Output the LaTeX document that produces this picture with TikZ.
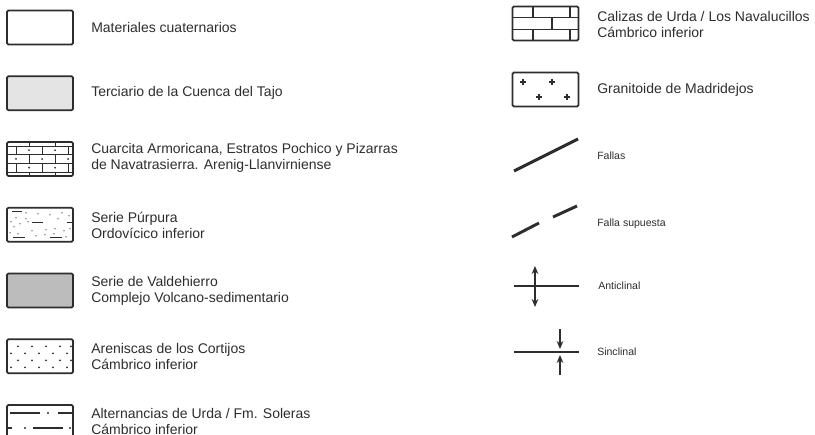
\documentclass[tikz,border=0pt]{standalone}
\usepackage{fontspec}
\setmainfont{Liberation Sans}
\usetikzlibrary{arrows.meta}
\definecolor{inkgray}{RGB}{45,45,45}
\definecolor{terciario}{RGB}{228,228,228}
\definecolor{valde}{RGB}{188,188,188}

\begin{document}
\begin{tikzpicture}[x=0.75pt,y=0.75pt,yscale=-1,xscale=1,
  legbox/.style={draw=inkgray,line width=1.4pt,rounded corners=1pt,inner sep=0pt,minimum width=49.5pt,minimum height=25.5pt},
  legtext/.style={anchor=west,inner sep=0pt,align=left,text=inkgray,font=\fontsize{10.5}{12}\selectfont},
  smalltext/.style={anchor=west,inner sep=0pt,text=inkgray,font=\fontsize{7.9}{9}\selectfont},
  hatch/.style={draw=inkgray,line width=0.7pt},
  fault/.style={draw=inkgray,line width=2.2pt},
  foldline/.style={draw=inkgray,line width=1.8pt},
  foldarrow/.style={draw=inkgray,line width=1.3pt},
  foldtip/.tip={Stealth[length=6pt,width=5pt]}]
\useasboundingbox (0,0) rectangle (815,435);
\clip (0,0) rectangle (815,435);

%Shape: Rectangle
\node[legbox] (bmat) at (40,27.5) {};
% Text Node
\node[legtext] (mat) at (91,27.5) {Materiales cuaternarios};

%Shape: Rectangle
\node[legbox,fill=terciario] (bter) at (40,93.25) {};
% Text Node
\node[legtext] (ter) at (91,93.25) {Terciario de la Cuenca del Tajo};

%Shape: Rectangle
\node[legbox] (bcua) at (40,159) {};
\begin{scope}[shift={(bcua.center)}]
  \draw[hatch] (-33,-13) -- (33,-13) (-33,-4.5) -- (33,-4.5) (-33,4.5) -- (33,4.5) (-33,13) -- (33,13);
  \foreach \x in {-11,15} \draw[hatch] (\x,-17) -- (\x,-13) (\x,-4.5) -- (\x,4.5) (\x,13) -- (\x,17);
  \foreach \x in {-24,2,28} \draw[hatch] (\x,-13) -- (\x,-4.5) (\x,4.5) -- (\x,13);
  \foreach \x in {-11,15} \fill[inkgray] (\x,-8.75) circle (1) (\x,8.75) circle (1);
  \foreach \x in {-24,2,28} \fill[inkgray] (\x,0) circle (1);
\end{scope}
% Text Node
\node[legtext] (cua) at (91,158) {Cuarcita Armoricana, Estratos Pochico y Pizarras\\de Navatrasierra. Arenig-Llanvirniense};

%Shape: Rectangle
\node[legbox] (bpur) at (40,224.75) {};
\begin{scope}[shift={(bpur.center)}]
  \draw[hatch,line width=1pt] (-28,-13) -- (-18,-13) (-8,-2) -- (3,-2) (27,-2) -- (33,-2) (-27,13) -- (-15,13) (10,13) -- (22,13);
  \foreach \x/\y in {-24/-7,-14/-12,-2/-11,10/-10,22/-12,29/-9,-29/-3,-20/-1,-12/-3,-8/6,6/5,15/4,24/6,-30/8,-22/9,-4/11,5/10,14/9,26/12,-14/-6,18/-6,30/4,-26/2}
    \fill[black!45] (\x,\y) circle (0.9);
\end{scope}
% Text Node
\node[legtext] (pur) at (91,225) {Serie Púrpura\\Ordovícico inferior};

%Shape: Rectangle
\node[legbox,fill=valde] (bval) at (40,290.5) {};
% Text Node
\node[legtext] (val) at (91,291) {Serie de Valdehierro\\Complejo Volcano-sedimentario};

%Shape: Rectangle
\node[legbox] (bare) at (40,356.25) {};
\begin{scope}[shift={(bare.center)}]
  \foreach \y in {-10,4} \foreach \x in {-22,-8,6,20,31} \fill[inkgray] (\x,\y) circle (1);
  \foreach \y in {-3,11} \foreach \x in {-29,-15,-1,13,27} \fill[inkgray] (\x,\y) circle (1);
\end{scope}
% Text Node
\node[legtext] (are) at (91,356) {Areniscas de los Cortijos\\Cámbrico inferior};

%Shape: Rectangle
\node[legbox] (balt) at (40,422) {};
\begin{scope}[shift={(balt.center)}]
  \draw[hatch,line width=1pt] (-30,-9) -- (0,-9) (18,-9) -- (33,-9) (-33,6) -- (-28,6) (-7,6) -- (23,6);
  \fill[inkgray] (8,-9) circle (1.2) (-15,6) circle (1.2) (30,6) circle (1.2);
\end{scope}
% Text Node
\node[legtext] (alt) at (91,421) {Alternancias de Urda / Fm. Soleras\\Cámbrico inferior};

%Shape: Rectangle
\node[legbox] (bcal) at (545.5,23.5) {};
\begin{scope}[shift={(bcal.center)}]
  \draw[hatch,line width=1pt] (-33,-6) -- (33,-6) (-33,6) -- (33,6);
  \foreach \x in {-12.5,24.5} \draw[hatch,line width=1pt] (\x,-17) -- (\x,-6) (\x,6) -- (\x,17);
  \draw[hatch,line width=1pt] (6.5,-6) -- (6.5,6);
\end{scope}
% Text Node
\node[legtext] (cal) at (597,24.5) {Calizas de Urda / Los Navalucillos\\Cámbrico inferior};

%Shape: Rectangle
\node[legbox] (bgra) at (545.5,89.5) {};
\begin{scope}[shift={(bgra.center)}]
  \foreach \x/\y in {-22.5/-7.5,6.5/-7.5,-6.5/7.5,21.5/7.5}
    \draw[hatch,line width=0.9pt] (\x-3,\y) -- (\x+3,\y) (\x,\y-3) -- (\x,\y+3);
\end{scope}
% Text Node
\node[legtext] (gra) at (597,89.5) {Granitoide de Madridejos};

%Straight Lines
\coordinate (fa1) at (514,171);
\coordinate (fa2) at (578,139);
\draw[fault] (fa1) -- (fa2);
% Text Node
\node[smalltext] (fal) at (597,156) {Fallas};

%Straight Lines
\coordinate (su1) at (512,237);
\coordinate (su2) at (539,223);
\coordinate (su3) at (553,217);
\coordinate (su4) at (577,206);
\draw[fault] (su1) -- (su2) (su3) -- (su4);
% Text Node
\node[smalltext] (sup) at (597,224) {Falla supuesta};

%Straight Lines
\coordinate (an1) at (514,286);
\coordinate (an2) at (579,286);
\coordinate (an3) at (535,266);
\coordinate (an4) at (535,307);
\draw[foldline] (an1) -- (an2);
\draw[foldarrow,foldtip-foldtip] (an3) -- (an4);
% Text Node
\node[smalltext] (ant) at (598,286) {Anticlinal};

%Straight Lines
\coordinate (si1) at (514,352);
\coordinate (si2) at (579,352);
\coordinate (si3) at (560,329);
\coordinate (si4) at (560,349);
\coordinate (si5) at (560,375);
\coordinate (si6) at (560,355);
\draw[foldline] (si1) -- (si2);
\draw[foldarrow,-foldtip] (si3) -- (si4);
\draw[foldarrow,-foldtip] (si5) -- (si6);
% Text Node
\node[smalltext] (sin) at (597,352) {Sinclinal};

\end{tikzpicture}
\end{document}
